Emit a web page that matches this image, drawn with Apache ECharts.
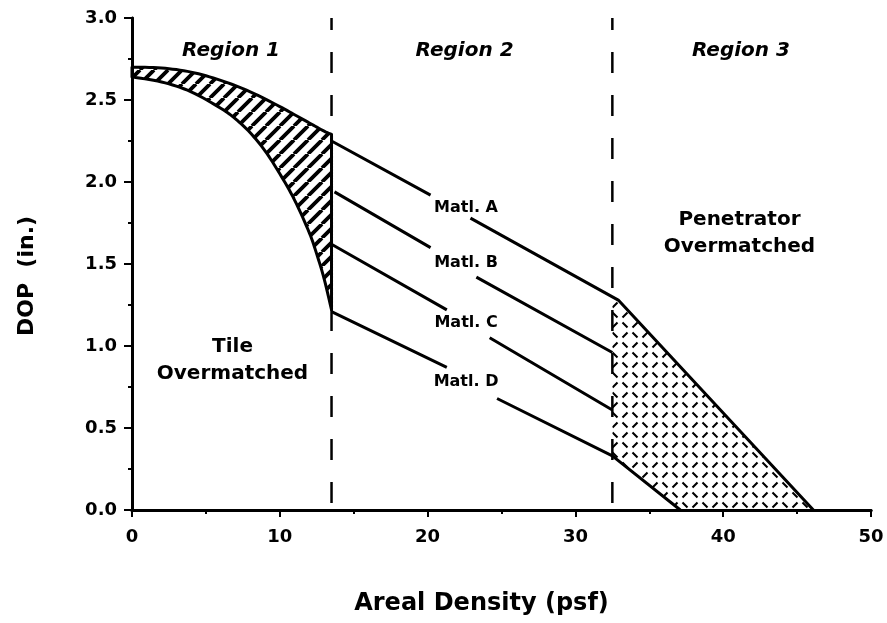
<!DOCTYPE html>
<html>
<head>
<meta charset="utf-8">
<script src="https://cdn.jsdelivr.net/npm/echarts@6/dist/echarts.min.js"></script>
<style>
  html, body { margin: 0; padding: 0; background: #fff; }
  #chart { width: 887px; height: 623px; }
</style>
</head>
<body>
<div id="chart"></div>
<script>
// region 1 band (tile overmatched)
const tileUpper = [[0, 2.70], [2, 2.695], [4, 2.67], [6, 2.62], [8, 2.55], [10, 2.46], [11, 2.41], [12, 2.36], [13, 2.31], [13.5, 2.29]];
const tileLower = [[0, 2.64], [2, 2.61], [4, 2.55], [6, 2.45], [7, 2.385], [8, 2.30], [9, 2.19], [10, 2.05], [11, 1.89], [12, 1.69], [12.5, 1.56], [13, 1.41], [13.5, 1.22]];

// material lines, gap marks where the label sits
const GAP = ['-', '-'];
const matlA = [[13.5, 2.25], [20.2, 1.92], GAP, [22.9, 1.78], [32.9, 1.28], [46.1, 0]];
const matlB = [[13.7, 1.94], [20.2, 1.60], GAP, [23.3, 1.42], [32.5, 0.96]];
const matlC = [[13.5, 1.62], [21.3, 1.22], GAP, [24.2, 1.05], [32.5, 0.61]];
const matlD = [[13.5, 1.21], [21.3, 0.87], GAP, [24.7, 0.68], [32.5, 0.33], [37.1, 0]];

// region 3 band (penetrator overmatched)
const penBand = [[32.5, 1.26], [32.9, 1.28], [46.1, 0], [37.1, 0], [32.5, 0.33]];

const regionBounds = [13.5, 32.5];

const matlNames = ['Matl. A', 'Matl. B', 'Matl. C', 'Matl. D'];
const matlLabelPos = [[22.6, 1.84], [22.6, 1.51], [22.6, 1.14], [22.6, 0.78]];
const regionNames = ['Region 1', 'Region 2', 'Region 3'];
const regionLabelPos = [[6.7, 2.80], [22.5, 2.80], [41.2, 2.80]];
const noteNames = ['Tile\nOvermatched', 'Penetrator\nOvermatched'];
const notePos = [[6.8, 0.91], [41.1, 1.69]];

const FONT = 'DejaVu Sans';

function stripeTile() {
  const s = 14, c = document.createElement('canvas');
  c.width = s; c.height = s;
  const g = c.getContext('2d');
  g.strokeStyle = '#000';
  g.lineWidth = 3.8;
  g.beginPath();
  for (const o of [-s, 0, s]) { g.moveTo(o, s); g.lineTo(o + s, 0); }
  g.stroke();
  return c;
}

function dashTile() {
  const s = 10, c = document.createElement('canvas');
  c.width = s * 2; c.height = s * 2;
  const g = c.getContext('2d');
  g.strokeStyle = '#000';
  g.lineWidth = 2.1;
  const d = 2.5;
  g.beginPath();
  g.moveTo(s / 2 - d, s / 2 - d); g.lineTo(s / 2 + d, s / 2 + d);
  g.moveTo(1.5 * s - d, 1.5 * s - d); g.lineTo(1.5 * s + d, 1.5 * s + d);
  g.moveTo(1.5 * s - d, s / 2 + d); g.lineTo(1.5 * s + d, s / 2 - d);
  g.moveTo(s / 2 - d, 1.5 * s + d); g.lineTo(s / 2 + d, 1.5 * s - d);
  g.stroke();
  return c;
}

// catmull-rom through pixel points so the curve outline is drawn smooth
function smoothPx(pts, steps) {
  const out = [];
  for (let i = 0; i < pts.length - 1; i++) {
    const p0 = pts[Math.max(i - 1, 0)], p1 = pts[i], p2 = pts[i + 1], p3 = pts[Math.min(i + 2, pts.length - 1)];
    for (let k = 0; k < steps; k++) {
      const t = k / steps, t2 = t * t, t3 = t2 * t;
      out.push([0, 1].map(j => 0.5 * ((2 * p1[j]) + (-p0[j] + p2[j]) * t +
        (2 * p0[j] - 5 * p1[j] + 4 * p2[j] - p3[j]) * t2 + (-p0[j] + 3 * p1[j] - 3 * p2[j] + p3[j]) * t3)));
    }
  }
  out.push(pts[pts.length - 1]);
  return out;
}

const chart = echarts.init(document.getElementById('chart'), null, { renderer: 'canvas' });

const tileSeries = {
  type: 'custom',
  z: 1,
  silent: true,
  data: tileUpper,
  renderItem: (params, api) => {
    if (params.dataIndex !== 0) return;
    const up = smoothPx(tileUpper.map(p => api.coord(p)), 8);
    const lo = smoothPx(tileLower.map(p => api.coord(p)), 8);
    return {
      type: 'polygon',
      shape: { points: up.concat(lo.reverse()) },
      style: { fill: { image: stripeTile(), repeat: 'repeat' }, stroke: '#000', lineWidth: 3, lineJoin: 'round' }
    };
  }
};

const penSeries = {
  type: 'custom',
  z: 1,
  silent: true,
  data: penBand,
  renderItem: (params, api) => {
    if (params.dataIndex !== 0) return;
    return {
      type: 'polygon',
      shape: { points: penBand.map(p => api.coord(p)) },
      style: { fill: { image: dashTile(), repeat: 'repeat' }, stroke: null }
    };
  }
};

const lineSeries = (data) => ({
  type: 'line',
  z: 3,
  data: data,
  showSymbol: false,
  silent: true,
  connectNulls: false,
  lineStyle: { color: '#000', width: 3 }
});

const labelSeries = (names, pos, style) => ({
  type: 'scatter',
  z: 4,
  symbolSize: 0,
  silent: true,
  itemStyle: { opacity: 1, color: '#000' },
  data: names.map((n, i) => ({ name: n, value: pos[i] })),
  label: Object.assign({
    show: true,
    position: 'inside',
    formatter: p => p.name,
    color: '#000',
    opacity: 1,
    fontFamily: FONT,
    fontWeight: 'bold'
  }, style)
});

const axisText = { color: '#000', fontFamily: FONT, fontWeight: 'bold', fontSize: 18 };

const option = {
  backgroundColor: '#fff',
  animation: false,
  grid: { left: 132, right: 16, top: 18, bottom: 113 },
  xAxis: [
    {
      type: 'value', min: 0, max: 50, interval: 10,
      name: 'Areal Density (psf)',
      nameLocation: 'middle',
      nameGap: 82,
      nameTextStyle: { color: '#000', fontFamily: FONT, fontWeight: 'bold', fontSize: 24, padding: [0, 40, 0, 0] },
      axisLine: { lineStyle: { color: '#000', width: 3 } },
      axisTick: { length: 7, lineStyle: { color: '#000', width: 2 } },
      minorTick: { show: true, splitNumber: 2, length: 4, lineStyle: { color: '#000', width: 2 } },
      axisLabel: Object.assign({ margin: 18 }, axisText),
      splitLine: { show: false }
    },
    {
      type: 'value', min: 0, max: 50, position: 'top',
      axisLine: { lineStyle: { color: '#000', width: 3 } },
      axisTick: { show: false }, axisLabel: { show: false }, splitLine: { show: false }
    }
  ],
  yAxis: [
    {
      type: 'value', min: 0, max: 3, interval: 0.5,
      name: 'DOP  (in.)',
      nameLocation: 'middle',
      nameGap: 94,
      nameTextStyle: { color: '#000', fontFamily: FONT, fontWeight: 'bold', fontSize: 22, padding: [0, 24, 0, 0] },
      axisLine: { lineStyle: { color: '#000', width: 3 } },
      axisTick: { length: 8, lineStyle: { color: '#000', width: 2 } },
      minorTick: { show: true, splitNumber: 2, length: 4, lineStyle: { color: '#000', width: 2 } },
      axisLabel: Object.assign({ margin: 15, formatter: v => v.toFixed(1) }, axisText),
      splitLine: { show: false }
    },
    {
      type: 'value', min: 0, max: 3, position: 'right',
      axisLine: { lineStyle: { color: '#000', width: 2.5 } },
      axisTick: { show: false }, axisLabel: { show: false }, splitLine: { show: false }
    }
  ],
  series: [
    tileSeries,
    penSeries,
    lineSeries(matlA),
    lineSeries(matlB),
    lineSeries(matlC),
    lineSeries(matlD),
    ...regionBounds.map(x => ({
      type: 'line',
      z: 2,
      data: [[x, 0], [x, 3]],
      showSymbol: false,
      silent: true,
      lineStyle: { color: '#000', width: 2.5, type: [21, 22], dashOffset: 36 }
    })),
    labelSeries(matlNames, matlLabelPos, { fontSize: 16 }),
    labelSeries(regionNames, regionLabelPos, { fontSize: 20, fontStyle: 'italic' }),
    labelSeries(noteNames, notePos, { fontSize: 20, lineHeight: 27 })
  ]
};

chart.setOption(option);
</script>
</body>
</html>
